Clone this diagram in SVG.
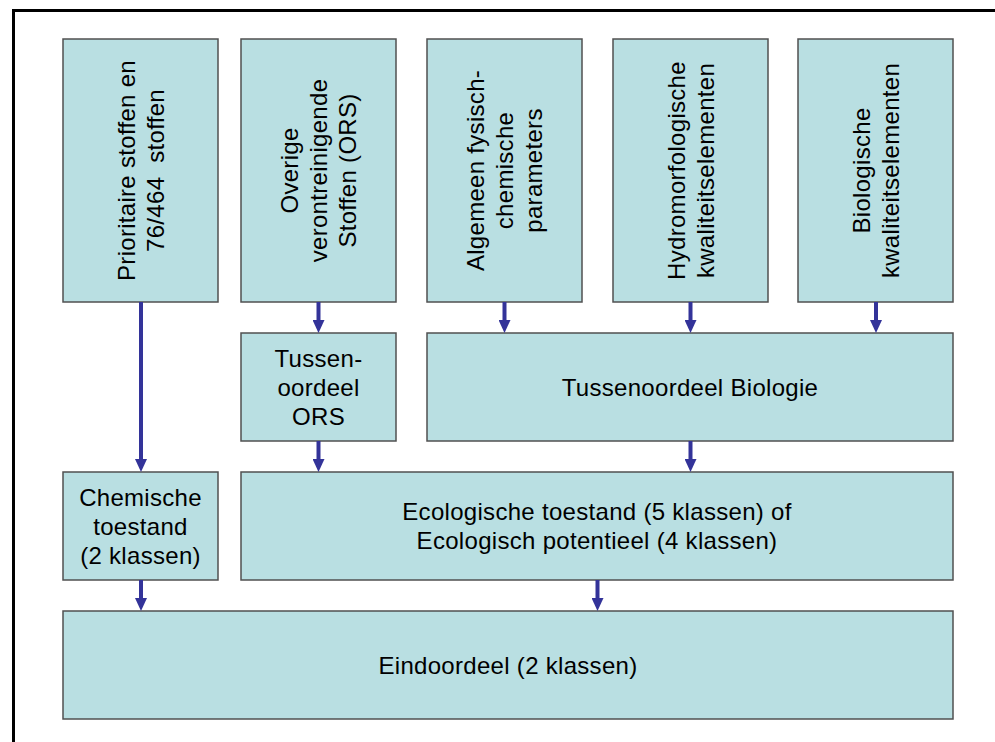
<svg xmlns="http://www.w3.org/2000/svg" width="995" height="742" viewBox="0 0 995 742">
<defs>
<style>
.box{fill:#B9DFE2;stroke:#505050;stroke-width:1.5}
.t{font-family:"Liberation Sans",Arial,sans-serif;font-size:24px;letter-spacing:0.3px;fill:#000;text-anchor:middle}
.c{stroke:#333399;stroke-width:4;fill:none;marker-end:url(#ah)}
</style>
<marker id="ah" markerUnits="userSpaceOnUse" markerWidth="13" markerHeight="12" viewBox="0 0 13 12" refX="1" refY="6" orient="auto">
<polygon points="0,0 13,6 0,12" fill="#333399"/>
</marker>
</defs>
<rect x="0" y="0" width="995" height="742" fill="#fff"/>
<rect x="13.5" y="10.5" width="1000" height="800" fill="none" stroke="#000" stroke-width="3"/>

<g id="n-prioritaire">
<rect class="box" x="63" y="39" width="155" height="263"/>
<text class="t" transform="translate(140.5,170.5) rotate(-90)"><tspan x="0" y="-5.9">Prioritaire stoffen en</tspan><tspan x="0" y="23.1">76/464&#160; stoffen</tspan></text>
</g>
<g id="n-overige">
<rect class="box" x="241" y="39" width="155" height="263"/>
<text class="t" transform="translate(318.5,170.5) rotate(-90)"><tspan x="0" y="-20.4">Overige</tspan><tspan x="0" y="8.6">verontreinigende</tspan><tspan x="0" y="37.6">Stoffen (ORS)</tspan></text>
</g>
<g id="n-algemeen">
<rect class="box" x="427" y="39" width="155" height="263"/>
<text class="t" transform="translate(504.5,170.5) rotate(-90)"><tspan x="0" y="-20.4">Algemeen fysisch-</tspan><tspan x="0" y="8.6">chemische</tspan><tspan x="0" y="37.6">parameters</tspan></text>
</g>
<g id="n-hydro">
<rect class="box" x="613" y="39" width="155" height="263"/>
<text class="t" transform="translate(690.5,170.5) rotate(-90)"><tspan x="0" y="-5.9">Hydromorfologische</tspan><tspan x="0" y="23.1">kwaliteitselementen</tspan></text>
</g>
<g id="n-biologische">
<rect class="box" x="798" y="39" width="155" height="263"/>
<text class="t" transform="translate(875.5,170.5) rotate(-90)"><tspan x="0" y="-5.9">Biologische</tspan><tspan x="0" y="23.1">kwaliteitselementen</tspan></text>
</g>
<g id="n-tussen-ors">
<rect class="box" x="241" y="333" width="155" height="108"/>
<text class="t"><tspan x="318.5" y="366.6">Tussen-</tspan><tspan x="318.5" y="395.6">oordeel</tspan><tspan x="318.5" y="424.6">ORS</tspan></text>
</g>
<g id="n-tussen-bio">
<rect class="box" x="427" y="333" width="526" height="108"/>
<text class="t" x="690" y="395.6">Tussenoordeel Biologie</text>
</g>
<g id="n-chemische">
<rect class="box" x="63" y="472" width="155" height="108"/>
<text class="t"><tspan x="140.5" y="505.6">Chemische</tspan><tspan x="140.5" y="534.6">toestand</tspan><tspan x="140.5" y="563.6">(2 klassen)</tspan></text>
</g>
<g id="n-ecologische">
<rect class="box" x="241" y="472" width="712" height="108"/>
<text class="t"><tspan x="597" y="520.1">Ecologische toestand (5 klassen) of</tspan><tspan x="597" y="549.1">Ecologisch potentieel (4 klassen)</tspan></text>
</g>
<g id="n-eindoordeel">
<rect class="box" x="63" y="611" width="890" height="108"/>
<text class="t" x="508" y="673.6">Eindoordeel (2 klassen)</text>
</g>

<g id="connectors">
<path class="c" d="M141 302 V460"/>
<path class="c" d="M318.5 302 V321"/>
<path class="c" d="M504.5 302 V321"/>
<path class="c" d="M690.5 302 V321"/>
<path class="c" d="M876 302 V321"/>
<path class="c" d="M318.5 441 V460"/>
<path class="c" d="M690.5 441 V460"/>
<path class="c" d="M141 580 V599"/>
<path class="c" d="M597.5 580 V599"/>
</g>
</svg>
